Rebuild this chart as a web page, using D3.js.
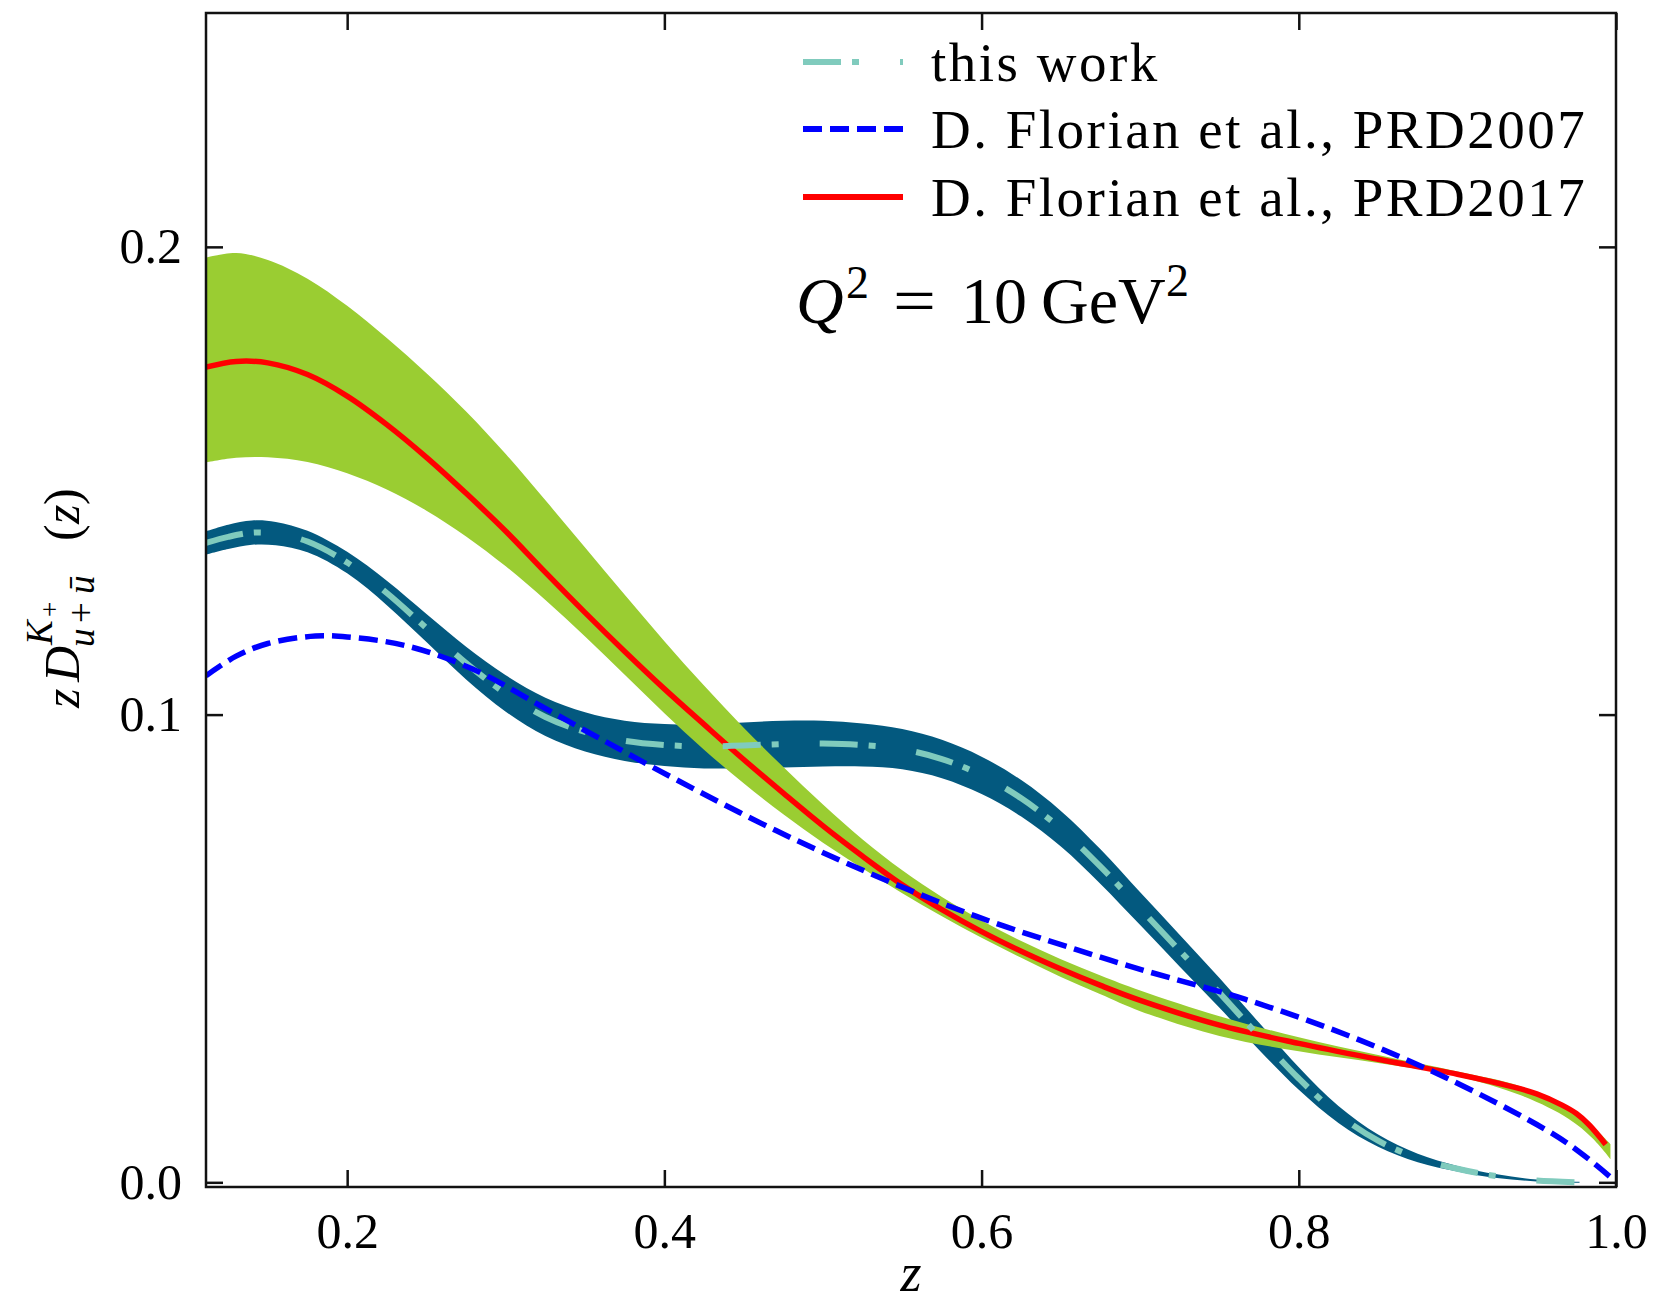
<!DOCTYPE html>
<meta charset="utf-8">
<style>
  body { margin: 0; background: #fff; }
  text { font-family: "Liberation Serif", "Times New Roman", serif; fill: #000; }
</style>
<svg width="1654" height="1304"></svg>
<script src="https://d3js.org/d3.v7.min.js"></script>
<script>
  // this work: central line and uncertainty band
  var zThis = [0.111, 0.125, 0.14, 0.155, 0.175, 0.2, 0.225, 0.25, 0.275, 0.3, 0.325, 0.35, 0.375, 0.4,
    0.425, 0.45, 0.475, 0.5, 0.525, 0.55, 0.575, 0.6, 0.625, 0.65, 0.675, 0.7, 0.725, 0.75, 0.775, 0.8,
    0.825, 0.85, 0.875, 0.9, 0.925, 0.95, 0.977];
  var thisWork = [0.1367, 0.1380, 0.1389, 0.1387, 0.1370, 0.1325, 0.1260, 0.1185, 0.1110, 0.1045, 0.0995,
    0.0963, 0.0944, 0.0935, 0.0932, 0.0934, 0.0937, 0.0938, 0.0935, 0.0926, 0.0905, 0.0870, 0.0821, 0.0756,
    0.0675, 0.0585, 0.0495, 0.0405, 0.0312, 0.0222, 0.0145, 0.0089, 0.0052, 0.0029, 0.0013, 0.0004, 0.0000];
  var thisLo = [0.1342, 0.1354, 0.1363, 0.1362, 0.1347, 0.1302, 0.1234, 0.1155, 0.1075, 0.1006, 0.0954,
    0.0921, 0.0901, 0.0890, 0.0885, 0.0885, 0.0887, 0.0889, 0.0889, 0.0883, 0.0864, 0.0830, 0.0782, 0.0718,
    0.0638, 0.0550, 0.0461, 0.0373, 0.0283, 0.0198, 0.0127, 0.0076, 0.0043, 0.0023, 0.0009, 0.0002, -0.0001];
  var thisHi = [0.1392, 0.1406, 0.1415, 0.1412, 0.1393, 0.1348, 0.1286, 0.1215, 0.1145, 0.1084, 0.1036,
    0.1005, 0.0987, 0.0980, 0.0979, 0.0983, 0.0987, 0.0987, 0.0981, 0.0969, 0.0946, 0.0910, 0.0860, 0.0794,
    0.0712, 0.0620, 0.0529, 0.0437, 0.0341, 0.0246, 0.0163, 0.0102, 0.0061, 0.0035, 0.0017, 0.0006, 0.0001];

  // D. Florian et al. 2017: central line and band
  var zDss17 = [0.111, 0.13, 0.15, 0.175, 0.2, 0.225, 0.25, 0.275, 0.3, 0.325, 0.35, 0.375, 0.4, 0.425,
    0.45, 0.475, 0.5, 0.525, 0.55, 0.575, 0.6, 0.625, 0.65, 0.675, 0.7, 0.75, 0.8, 0.85, 0.9, 0.935, 0.95,
    0.966, 0.975, 0.983, 0.9935];
  var dss17 = [0.1743, 0.1755, 0.1752, 0.1727, 0.1681, 0.1620, 0.1550, 0.1473, 0.1392, 0.1304, 0.1218,
    0.1135, 0.1055, 0.0979, 0.0904, 0.0832, 0.0762, 0.0697, 0.0636, 0.0583, 0.0536, 0.0494, 0.0456, 0.0421,
    0.0389, 0.0336, 0.0297, 0.0263, 0.0231, 0.0204, 0.0189, 0.0165, 0.0147, 0.0123, 0.0081];
  var zDss17Band = [0.111, 0.13, 0.15, 0.175, 0.2, 0.225, 0.25, 0.275, 0.3, 0.325, 0.35, 0.375, 0.4, 0.425,
    0.45, 0.475, 0.5, 0.525, 0.55, 0.575, 0.6, 0.625, 0.65, 0.675, 0.7, 0.75, 0.8, 0.85, 0.9, 0.94, 0.97,
    0.985, 0.9965];
  var dss17Lo = [0.1539, 0.1549, 0.1550, 0.1540, 0.1516, 0.1481, 0.1436, 0.1381, 0.1317, 0.1245, 0.1167,
    0.1085, 0.1003, 0.0925, 0.0853, 0.0787, 0.0726, 0.0671, 0.0618, 0.0569, 0.0523, 0.0480, 0.0439, 0.0402,
    0.0366, 0.0313, 0.0280, 0.0255, 0.0227, 0.0186, 0.0136, 0.0095, 0.0050];
  var dss17Hi = [0.1977, 0.1987, 0.1972, 0.1932, 0.1874, 0.1805, 0.1730, 0.1648, 0.1557, 0.1458, 0.1357,
    0.1256, 0.1157, 0.1062, 0.0972, 0.0888, 0.0808, 0.0733, 0.0667, 0.0610, 0.0560, 0.0516, 0.0477, 0.0442,
    0.0410, 0.0355, 0.0310, 0.0272, 0.0237, 0.0205, 0.0157, 0.0120, 0.0082];

  // D. Florian et al. 2007
  var zDss07 = [0.111, 0.13, 0.15, 0.18, 0.2, 0.2374, 0.2794, 0.3213, 0.35, 0.375, 0.4074, 0.4704, 0.5334,
    0.5964, 0.6594, 0.7035, 0.7665, 0.8295, 0.8925, 0.9555, 0.9765, 0.9975, 1.0];
  var dss07 = [0.1083, 0.1125, 0.1152, 0.1168, 0.1166, 0.1147, 0.1097, 0.1020, 0.0966, 0.0920, 0.0861,
    0.0752, 0.0655, 0.0569, 0.0498, 0.0452, 0.0391, 0.0316, 0.0224, 0.0113, 0.0066, 0.0008, 0.0];

  var xTicks = [0.2, 0.4, 0.6, 0.8, 1.0];
  var yTicks = [0.0, 0.1, 0.2];
  var legendLabels = ["this work", "D. Florian et al., PRD2007", "D. Florian et al., PRD2017"];

  var svg = d3.select("svg"),
    plotL = 206, plotR = 1616, plotT = 13, plotB = 1187;

  var x = d3.scaleLinear().domain([0.111, 1.0]).range([plotL, plotR]);
  var y = d3.scaleLinear().domain([-0.001, 0.25]).range([plotB, plotT]);

  var serif = "Liberation Serif, Times New Roman, serif";
  var bandDark = "#03597f", tealLine = "#80cbbd", green = "#9acd32";

  svg.append("clipPath").attr("id", "plotclip")
    .append("rect").attr("x", plotL).attr("y", plotT).attr("width", plotR - plotL).attr("height", plotB - plotT);

  var curve = d3.curveCatmullRom.alpha(0.5);
  var line = d3.line().x(function(d) { return x(d[0]); }).y(function(d) { return y(d[1]); }).curve(curve);
  var area = d3.area().x(function(d) { return x(d[0]); })
    .y0(function(d) { return y(d[1]); })
    .y1(function(d) { return y(d[2]); })
    .curve(curve);

  var plot = svg.append("g").attr("clip-path", "url(#plotclip)");

  plot.append("path").datum(d3.zip(zThis, thisLo, thisHi))
    .attr("d", area).attr("fill", bandDark);
  plot.append("path").datum(d3.zip(zDss17Band, dss17Lo, dss17Hi))
    .attr("d", area).attr("fill", green);
  plot.append("path").datum(d3.zip(zDss17, dss17))
    .attr("d", line).attr("fill", "none").attr("stroke", "#ff0000").attr("stroke-width", 5.5);
  plot.append("path").datum(d3.zip(zThis, thisWork))
    .attr("d", line).attr("fill", "none").attr("stroke", tealLine).attr("stroke-width", 6)
    .attr("stroke-dasharray", "38,11,7,41");
  plot.append("path").datum(d3.zip(zDss07, dss07))
    .attr("d", line).attr("fill", "none").attr("stroke", "#0000ff").attr("stroke-width", 5.5)
    .attr("stroke-dasharray", "19,8");

  // axes: ticks pointing inward on all four sides
  function styleAxis(g) {
    g.select(".domain").remove();
    g.attr("font-family", serif).attr("font-size", 50);
    g.selectAll(".tick line").attr("stroke", "#111").attr("stroke-width", 2.5);
    g.selectAll(".tick text").attr("fill", "#000");
  }
  svg.append("g").attr("transform", "translate(0," + plotB + ")")
    .call(d3.axisBottom(x).tickValues(xTicks).tickSizeInner(-17).tickSizeOuter(0).tickPadding(25)
      .tickFormat(d3.format(".1f")))
    .call(styleAxis);
  svg.append("g").attr("transform", "translate(0," + plotT + ")")
    .call(d3.axisTop(x).tickValues(xTicks).tickSizeInner(-17).tickSizeOuter(0).tickFormat(""))
    .call(styleAxis);
  svg.append("g").attr("transform", "translate(" + plotL + ",0)")
    .call(d3.axisLeft(y).tickValues(yTicks).tickSizeInner(-17).tickSizeOuter(0).tickPadding(24)
      .tickFormat(d3.format(".1f")))
    .call(styleAxis);
  svg.append("g").attr("transform", "translate(" + plotR + ",0)")
    .call(d3.axisRight(y).tickValues(yTicks).tickSizeInner(-17).tickSizeOuter(0).tickFormat(""))
    .call(styleAxis);

  svg.append("rect").attr("x", plotL).attr("y", plotT).attr("width", plotR - plotL).attr("height", plotB - plotT)
    .attr("fill", "none").attr("stroke", "#111").attr("stroke-width", 2.5);

  // x label
  svg.append("text").attr("x", (plotL + plotR) / 2).attr("y", 1291).attr("text-anchor", "middle")
    .attr("font-size", 54).attr("font-style", "italic").text("z");

  // y label, built from pieces in a rotated group
  var ylab = svg.append("g").attr("transform", "translate(79,709) rotate(-90)");
  var pieces = [
    { t: "z", x: 1, y: 0, s: 50, i: true },
    { t: "D", x: 27, y: 0, s: 50, i: true },
    { t: "K", x: 64, y: -27, s: 37, i: true },
    { t: "+", x: 92, y: -20, s: 27, i: false },
    { t: "u", x: 62, y: 15, s: 37, i: true },
    { t: "+", x: 86, y: 15, s: 37, i: false },
    { t: "ū", x: 115, y: 15, s: 37, i: true },
    { t: "(", x: 168, y: 0, s: 50, i: false },
    { t: "z", x: 185, y: 0, s: 50, i: true },
    { t: ")", x: 204, y: 0, s: 50, i: false }
  ];
  ylab.selectAll("text").data(pieces).enter().append("text")
    .attr("x", function(d) { return d.x; })
    .attr("y", function(d) { return d.y; })
    .attr("font-size", function(d) { return d.s; })
    .attr("font-style", function(d) { return d.i ? "italic" : "normal"; })
    .text(function(d) { return d.t; });

  // legend
  var legendStyles = [
    { color: tealLine, dash: "38,11,7,41" },
    { color: "#0000ff", dash: "19,8" },
    { color: "#ff0000", dash: null }
  ];
  var legendY = [62, 129, 197];
  var leg = svg.append("g");
  legendLabels.forEach(function(label, i) {
    leg.append("line").attr("x1", 803).attr("x2", 903).attr("y1", legendY[i]).attr("y2", legendY[i])
      .attr("stroke", legendStyles[i].color).attr("stroke-width", 6)
      .attr("stroke-dasharray", legendStyles[i].dash);
    leg.append("text").attr("x", 931).attr("y", legendY[i] + 19)
      .attr("font-size", 55).attr("letter-spacing", 2.5).text(label);
  });

  // Q^2 annotation
  var q = svg.append("g").attr("font-size", 66);
  q.append("text").attr("x", 796).attr("y", 323).attr("font-style", "italic").text("Q");
  q.append("text").attr("x", 846).attr("y", 298).attr("font-size", 46).text("2");
  q.append("text").attr("x", 893).attr("y", 323).attr("textLength", 43)
    .attr("lengthAdjust", "spacingAndGlyphs").text("=");
  q.append("text").attr("x", 961).attr("y", 323).text("10");
  q.append("text").attr("x", 1041).attr("y", 323).text("GeV");
  q.append("text").attr("x", 1166).attr("y", 296).attr("font-size", 46).text("2");
</script>
